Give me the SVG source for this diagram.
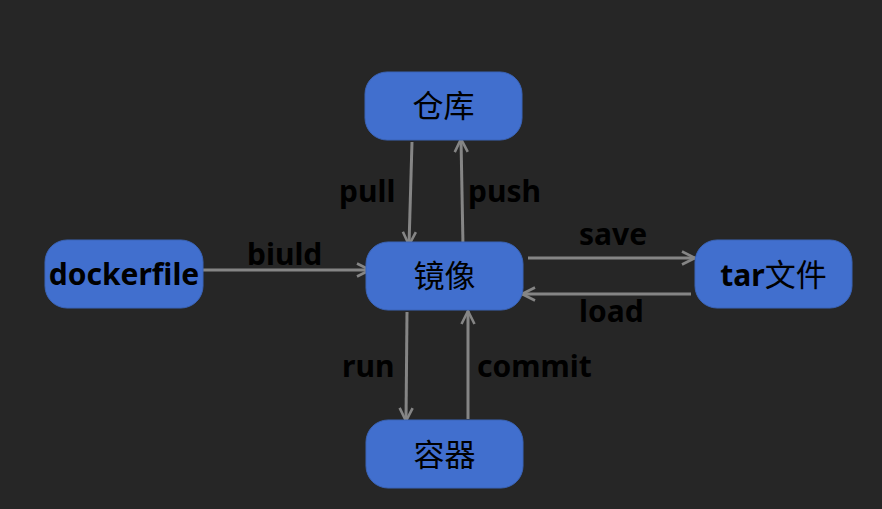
<svg xmlns="http://www.w3.org/2000/svg" width="882" height="509" viewBox="0 0 882 509">
<defs>
<style>
.node{fill:#416fce;stroke:#3a64b8;stroke-width:1}
.nt{font-family:"Noto Sans","Noto Sans CJK SC",sans-serif;font-size:31px;fill:#000;text-anchor:middle}
.b{font-weight:bold;font-size:30px}
.lbl{font-family:"Noto Sans","Noto Sans CJK SC",sans-serif;font-size:30px;font-weight:bold;fill:#000}
.c{stroke:#858585;stroke-width:3;fill:none;marker-end:url(#ah)}
</style>
<marker id="ah" viewBox="0 0 16 16" refX="15" refY="8" markerWidth="16" markerHeight="16" markerUnits="userSpaceOnUse" orient="auto">
<path d="M2,1.5 L15,8 L2,14.5" fill="none" stroke="#858585" stroke-width="2.6"/>
</marker>
</defs>
<rect width="882" height="509" fill="#262626"/>
<g id="connectors">
<line class="c" x1="412" y1="142" x2="409" y2="245"/>
<line class="c" x1="463" y1="246" x2="461" y2="139"/>
<line class="c" x1="203" y1="270" x2="370" y2="270"/>
<line class="c" x1="528" y1="258" x2="695" y2="258"/>
<line class="c" x1="691" y1="294" x2="522" y2="294"/>
<line class="c" x1="407" y1="312" x2="406" y2="421"/>
<line class="c" x1="468" y1="419" x2="468" y2="311"/>
<text class="lbl" x="339" y="202">pull</text>
<text class="lbl" x="468" y="202">push</text>
<text class="lbl" x="247" y="265">biuld</text>
<text class="lbl" x="579" y="245">save</text>
<text class="lbl" x="579" y="322">load</text>
<text class="lbl" x="342" y="377">run</text>
<text class="lbl" x="477" y="377">commit</text>
</g>
<g id="cangku">
<rect class="node" x="365" y="72" width="157" height="68" rx="22"/>
<text class="nt" x="443.5" y="117">仓库</text>
</g>
<g id="jingxiang">
<rect class="node" x="366" y="242" width="157" height="68" rx="22"/>
<text class="nt" x="444.5" y="287">镜像</text>
</g>
<g id="dockerfile">
<rect class="node" x="45" y="240" width="158" height="68" rx="22"/>
<text class="nt b" x="124" y="285">dockerfile</text>
</g>
<g id="tar">
<rect class="node" x="695" y="240" width="157" height="68" rx="22"/>
<text class="nt" x="773.5" y="286"><tspan class="b">tar</tspan>文件</text>
</g>
<g id="rongqi">
<rect class="node" x="366" y="420" width="157" height="68" rx="22"/>
<text class="nt" x="444.5" y="466">容器</text>
</g>
</svg>
